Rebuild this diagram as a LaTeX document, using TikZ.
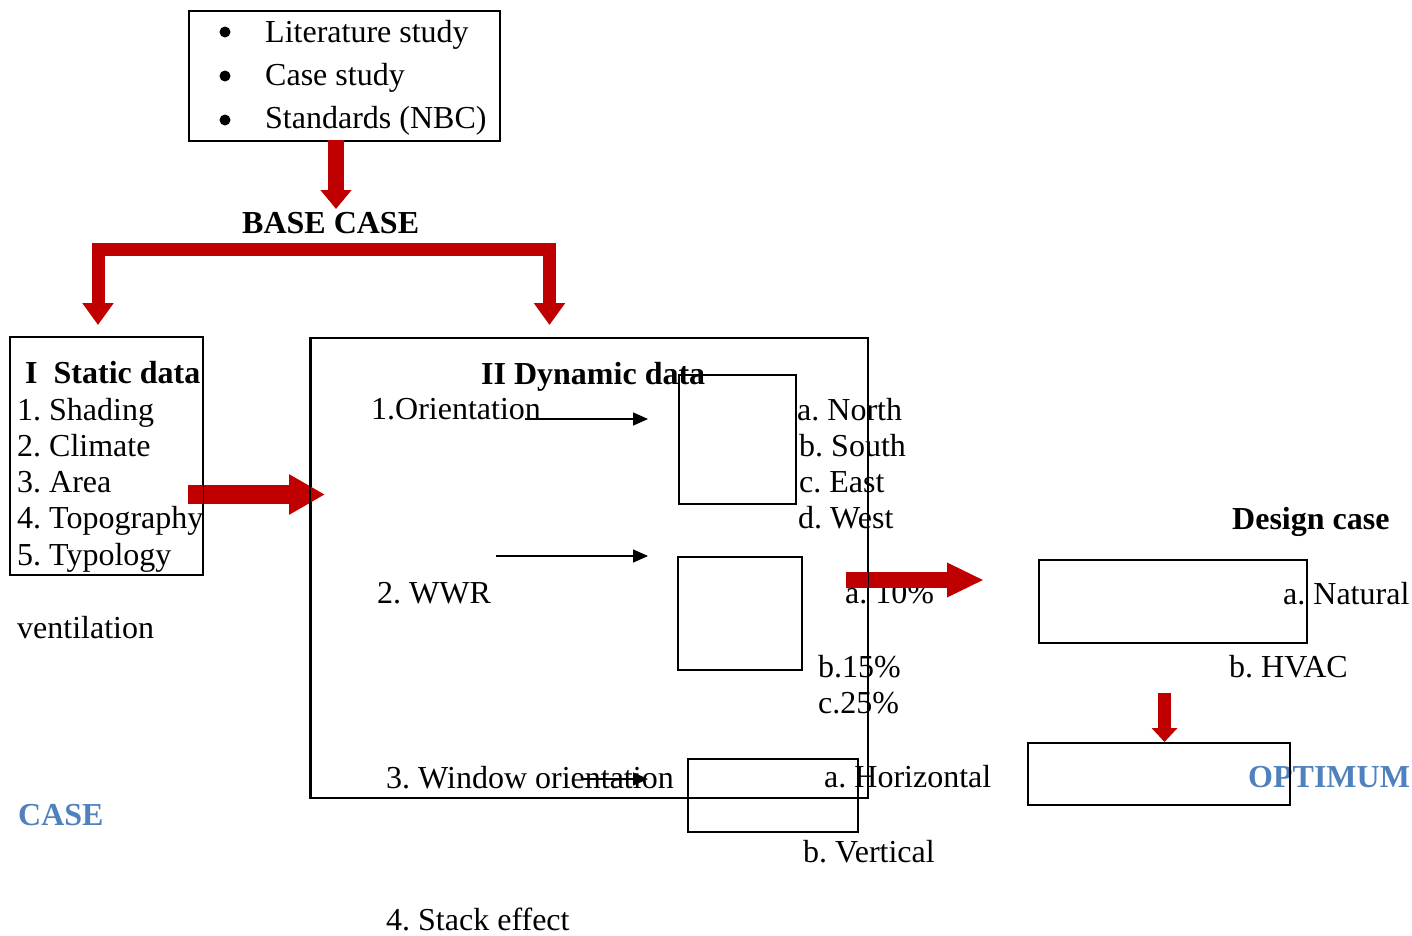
\documentclass[tikz,border=0pt]{standalone}
\usepackage{fontspec}
\setmainfont{Liberation Serif}
\usetikzlibrary{arrows.meta,positioning}
\definecolor{brick}{HTML}{C00000}
\definecolor{optblue}{HTML}{4F81BD}
\frenchspacing
\tikzset{
  txt/.style={anchor=base west, inner sep=0pt, font=\fontsize{32}{37}\selectfont},
  hd/.style={txt, font=\fontsize{32}{37}\selectfont\bfseries},
  blu/.style={hd, text=optblue},
  dot/.style={circle, fill, inner sep=0pt, minimum size=11pt},
  box/.style={draw, line width=1.5pt, anchor=north west, inner sep=0pt},
  blk/.style={draw=brick, line join=miter},
  thin/.style={-{Triangle[length=15pt,width=13pt]}, line width=1.5pt},
  nxt/.style={txt, at={([yshift=-36.3pt]#1.base west)}}
}
\begin{document}
\begin{tikzpicture}[x=1pt, y=-1pt]
\useasboundingbox (0,0) rectangle (1412,935);

\node[dot] at (225,32) (d1) {};
\node[dot] at (225,76) (d2) {};
\node[dot] at (225,120) (d3) {};
\node[txt] at (265,42) (l1) {Literature study};
\node[txt] at (265,85) (l2) {Case study};
\node[txt] at (265,128) (l3) {Standards (NBC)};
\node[hd] at (242,233) (base) {BASE CASE};

\node[hd] at (25,383) (sh) {I\ \ Static data};
\node[txt] at (17,420) (s1) {1. Shading};
\node[nxt=s1] (s2) {2. Climate};
\node[nxt=s2] (s3) {3. Area};
\node[nxt=s3] (s4) {4. Topography};
\node[nxt=s4] (s5) {5. Typology};
\node[txt] at (17,638) (vent) {ventilation};
\node[blu] at (18,825) (case) {CASE};

\node[hd] at (481,384) (dh) {II Dynamic data};
\node[txt] at (371,419) (p1) {1.Orientation};
\node[txt] at (797,420) (n1) {a. North};
\node[nxt=n1, xshift=2pt] (n2) {b. South};
\node[nxt=n2] (n3) {c. East};
\node[nxt=n3, xshift=-1pt] (n4) {d. West};
\node[txt] at (377,603) (p2) {2. WWR};
\node[txt] at (845,603) (w1) {a. 10\%};
\node[txt] at (818,677) (w2) {b.15\%};
\node[txt] at (818,713) (w3) {c.25\%};
\node[txt] at (386,788) (p3) {3. Window orientation};
\node[txt] at (824,787) (h1) {a. Horizontal};
\node[txt] at (803,862) (h2) {b. Vertical};
\node[txt] at (386,930) (p4) {4. Stack effect};

\node[hd] at (1232,529) (dc) {Design case};
\node[txt] at (1283,604) (v1) {a. Natural};
\node[txt] at (1229,677) (v2) {b. HVAC};
\node[blu] at (1248,787) (optm) {OPTIMUM};

\node[box, minimum width=311pt, minimum height=130pt] at (188,10) (src) {};
\node[box, minimum width=193pt, minimum height=238pt] at (9,336) (sta) {};
\node[box, minimum width=557pt, minimum height=460pt] at (310,337) (dyn) {};
\node[box, minimum width=117pt, minimum height=129pt] at (678,374) (b1) {};
\node[box, minimum width=124pt, minimum height=113pt] at (677,556) (b2) {};
\node[box, minimum width=170pt, minimum height=73pt] at (687,758) (b3) {};
\node[box, minimum width=268pt, minimum height=83pt] at (1038,559) (des) {};
\node[box, minimum width=262pt, minimum height=62pt] at (1027,742) (opt) {};

\coordinate (t0) at (336,140);
\coordinate (t1) at (336,209);
\coordinate (bl) at (98,325);
\coordinate (bm) at (330,249.5);
\coordinate (br) at (549.5,325);
\coordinate (r0) at (188,494.5);
\coordinate (r1) at (325,494.5);
\coordinate (g0) at (846,580);
\coordinate (g1) at (984,580);
\coordinate (k0) at (1164.5,693);
\coordinate (a1) at (525,419);
\coordinate (a2) at (496,556);
\coordinate (a3) at (582,779);
\coordinate (e1) at (648,419);
\coordinate (e2) at (648,556);
\coordinate (e3) at (648,779);

\draw[blk, line width=16pt, -{Triangle[length=19pt,width=30pt]}] (t0) -- (t1);
\draw[blk, line width=13pt, {Triangle[length=22pt,width=30pt]}-{Triangle[length=22pt,width=30pt]}] (bl) |- (bm) -| (br);
\draw[blk, line width=19pt, -{Triangle[length=36pt,width=38pt]}] (r0) -- (r1);
\draw[blk, line width=16pt, -{Triangle[length=37pt,width=32pt]}] (g0) -- (g1);
\draw[blk, line width=13pt, -{Triangle[length=14pt,width=25pt]}] (k0) -- (opt.north -| k0);

\draw[line width=1.5pt] (sta.north east) -- (sta.south east) (dyn.north west) -- (dyn.south west) (dyn.north east) -- (dyn.south east);

\draw[thin] (a1) -- (e1);
\draw[thin] (a2) -- (e2);
\draw[thin] (a3) -- (e3);
\end{tikzpicture}
\end{document}
